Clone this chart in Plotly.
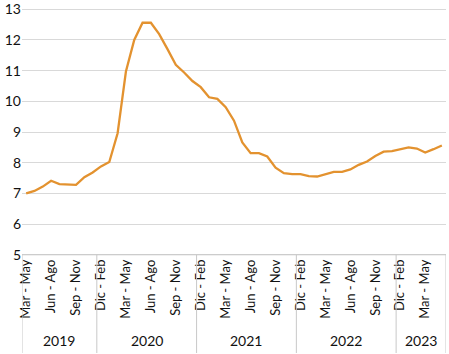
import plotly.graph_objects as go

periods = ["Mar - May", "Abr - Jun", "May - Jul", "Jun - Ago", "Jul - Sep", "Ago - Oct",
           "Sep - Nov", "Oct - Dic", "Nov - Ene",
           "Dic - Feb", "Ene - Mar", "Feb - Abr", "Mar - May", "Abr - Jun", "May - Jul",
           "Jun - Ago", "Jul - Sep", "Ago - Oct", "Sep - Nov", "Oct - Dic", "Nov - Ene",
           "Dic - Feb", "Ene - Mar", "Feb - Abr", "Mar - May", "Abr - Jun", "May - Jul",
           "Jun - Ago", "Jul - Sep", "Ago - Oct", "Sep - Nov", "Oct - Dic", "Nov - Ene",
           "Dic - Feb", "Ene - Mar", "Feb - Abr", "Mar - May", "Abr - Jun", "May - Jul",
           "Jun - Ago", "Jul - Sep", "Ago - Oct", "Sep - Nov", "Oct - Dic", "Nov - Ene",
           "Dic - Feb", "Ene - Mar", "Feb - Abr", "Mar - May", "Abr - Jun", "May - Jul"]

years = ["2019"] * 9 + ["2020"] * 12 + ["2021"] * 12 + ["2022"] * 12 + ["2023"] * 6

values = [7.00, 7.08, 7.22, 7.41, 7.30, 7.28, 7.28, 7.53, 7.68, 7.88,
          8.02, 8.96, 10.97, 12.00, 12.56, 12.56, 12.19, 11.70, 11.19, 10.94,
          10.66, 10.46, 10.13, 10.08, 9.81, 9.37, 8.66, 8.31, 8.31, 8.20,
          7.84, 7.66, 7.63, 7.63, 7.56, 7.55, 7.63, 7.70, 7.70, 7.78,
          7.93, 8.04, 8.22, 8.36, 8.38, 8.44, 8.50, 8.46, 8.33, 8.44,
          8.56]

y_ticks = [5, 6, 7, 8, 9, 10, 11, 12, 13]

FONT = "Lato"
TXT = "#111111"
W, H = 449, 354
ML, MR, MT, MB = 22, 3, 8, 98
plot_h = H - MT - MB
PAD = 0.04
y_lo, y_hi = 5 - PAD, 13 + PAD

n = len(values)
xs = list(range(n))
label_idx = [i for i in range(0, n, 3)]

fig = go.Figure()
fig.add_trace(go.Scatter(
    x=xs, y=values, mode="lines",
    line=dict(color="#E3922F", width=2.3),
    hoverinfo="skip", showlegend=False,
))

# group boundaries
bounds = [-0.5]
for i in range(1, n):
    if years[i] != years[i - 1]:
        bounds.append(i - 0.5)
bounds.append(n - 0.5)

axis_p = (5 - y_lo) / (y_hi - y_lo)
bottom = -(MB - 1) / plot_h
shapes = []
for b in bounds:
    shapes.append(dict(type="line", xref="x", yref="paper", x0=b, x1=b, y0=axis_p, y1=bottom,
                       line=dict(color="#c8c8c8", width=1)))
shapes.append(dict(type="line", xref="paper", yref="paper", x0=0, x1=1, y0=axis_p, y1=axis_p,
                   line=dict(color="#c8c8c8", width=1)))

annotations = []
for k in range(len(bounds) - 1):
    a, b = bounds[k], bounds[k + 1]
    yr = years[int(a + 0.5)]
    annotations.append(dict(x=(a + b) / 2, y=-(340 - (H - MB)) / plot_h,
                            xref="x", yref="paper", text=yr, showarrow=False,
                            xanchor="center", yanchor="middle",
                            font=dict(family=FONT, size=14, color=TXT)))

fig.update_layout(
    width=W, height=H,
    margin=dict(l=ML, r=MR, t=MT, b=MB),
    paper_bgcolor="white", plot_bgcolor="white",
    shapes=shapes, annotations=annotations,
    xaxis=dict(range=[-0.5, n - 0.5], tickmode="array", tickvals=label_idx,
               ticktext=[periods[i] for i in label_idx], tickangle=-90,
               showgrid=False, zeroline=False, showline=False, ticks="",
               tickfont=dict(family=FONT, size=13, color=TXT), automargin=False),
    yaxis=dict(range=[y_lo, y_hi], tickmode="array", tickvals=y_ticks,
               showgrid=True, gridcolor="#d9d9d9", gridwidth=1,
               zeroline=False, showline=False, ticks="",
               tickfont=dict(family=FONT, size=14, color=TXT), automargin=False),
)

fig.write_html("out.html")
